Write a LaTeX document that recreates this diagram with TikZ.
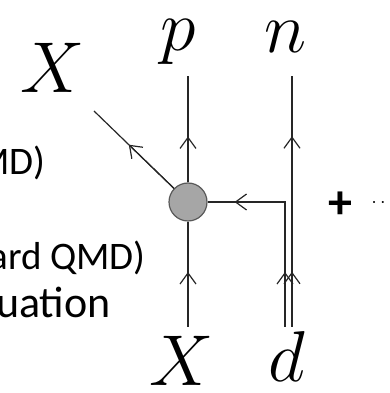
\documentclass[tikz,border=0pt]{standalone}
\usepackage{fix-cm}
\usepackage{fontspec}
\newfontfamily\slidefont{Carlito}
\usetikzlibrary{arrows.meta,calc}

\tikzset{
  fermion/.style={line width=1.2pt, draw=black!85},
  chevron/.style={fermion, -{Straight Barb[length=11pt,width=16pt]}},
  particle/.style={anchor=base, inner sep=0pt, font=\fontsize{72}{80}\selectfont},
  slidetext/.style={anchor=base east, inner sep=0pt, font=\slidefont\fontsize{#1}{#1}\selectfont}
}

\begin{document}
\begin{tikzpicture}[x=1pt,y=1pt]
\useasboundingbox (0,0) rectangle (389,393);

% Texte coupe a gauche
\node[slidetext=39] (qmd) at (46,218) {MD)};
\node[slidetext=39] (sqmd) at (146,123) {ard QMD)};
\node[slidetext=44] (eqn) at (111,75) {uation};

% Vertex
\node[circle, minimum size=38pt, inner sep=0pt,
  fill=black!35, draw=black!65, line width=1.2pt] (blob) at (188,191) {};

% Extremites
\coordinate (xout) at (94,282);
\coordinate (ptop) at (188,317);
\coordinate (ntop) at (292,317);
\coordinate (nbot) at (292,66);
\coordinate (dbot) at (285,66);
\coordinate (knee) at (285,191);
\coordinate (xbot) at (188,66);

% Lignes
\draw[fermion] (blob) -- (xout);
\draw[fermion] (blob) -- (ptop);
\draw[fermion] (xbot) -- (blob);
\draw[fermion] (nbot) -- (ntop);
\draw[fermion, line join=miter] (dbot) -- (knee) -- (blob);

% Fleches
\draw[chevron] (blob) -- ($(blob)!0.63!(xout)$);
\draw[chevron] (blob) -- ($(blob)!0.52!(ptop)$);
\draw[chevron] (xbot) -- ($(xbot)!0.44!(blob)$);
\draw[chevron] (nbot) -- ($(nbot)!0.22!(ntop)$);
\draw[chevron] (nbot) -- ($(nbot)!0.76!(ntop)$);
\draw[chevron] (dbot) -- ($(dbot)!0.44!(knee)$);
\draw[chevron] (knee) -- ($(knee)!0.52!(blob)$);

% Particules
\node[particle] (Xout) at (53,300) {$X$};
\node[particle] (p) at (178,342) {$p$};
\node[particle] (n) at (286,340) {$n$};
\node[particle] (Xin) at (182,7) {$X$};
\node[particle] (d) at (287,11) {$d$};

% Suite
\node[inner sep=0pt, font=\slidefont\bfseries\fontsize{48}{48}\selectfont] (plus) at (340,188) {+};
\node[anchor=base, inner sep=0pt, font=\fontsize{20}{20}\selectfont] (more) at (383,185) {$\cdots$};

\end{tikzpicture}
\end{document}
